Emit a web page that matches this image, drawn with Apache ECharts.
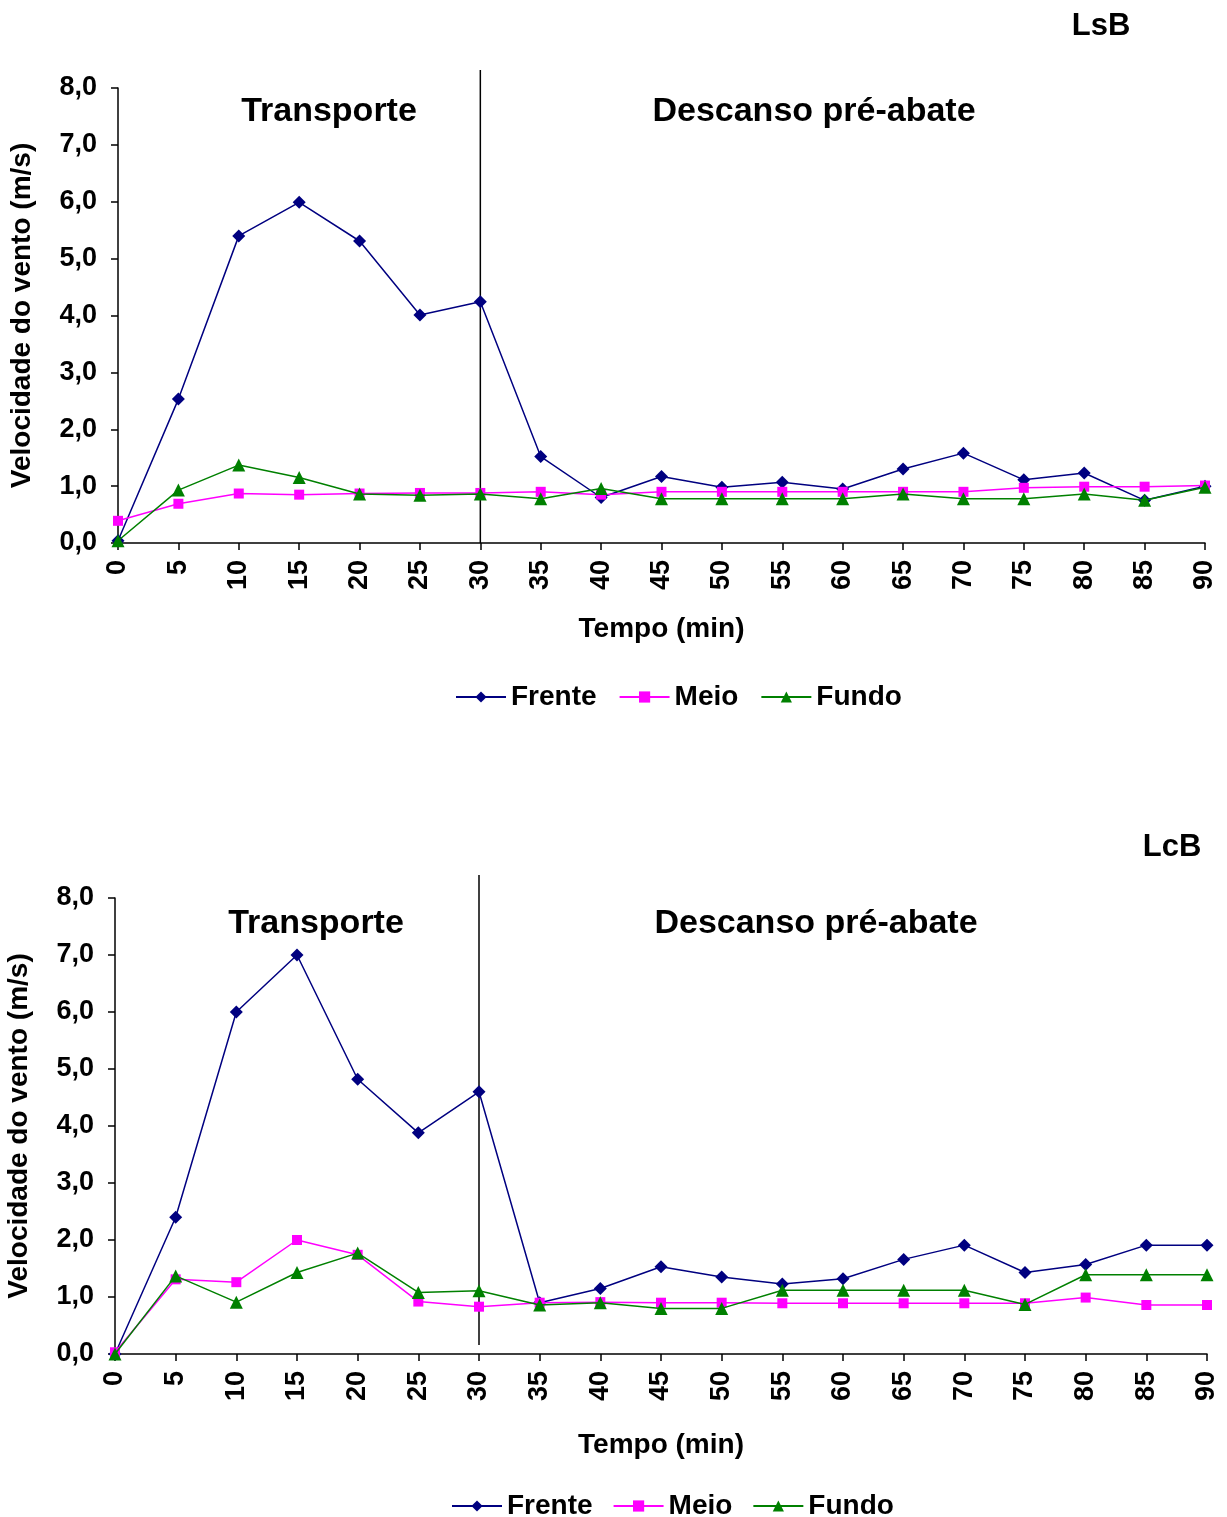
<!DOCTYPE html>
<html>
<head>
<meta charset="utf-8">
<script src="https://cdn.jsdelivr.net/npm/echarts@6/dist/echarts.min.js"></script>
<style>
html,body{margin:0;padding:0;background:#fff;}
#chart{width:1227px;height:1517px;}
</style>
</head>
<body>
<div id="chart"></div>
<script>
// ---- data ----
var minutes = ['0','5','10','15','20','25','30','35','40','45','50','55','60','65','70','75','80','85','90'];
var seriesNames = ['Frente','Meio','Fundo'];
var lsbFrente = [0.04,2.53,5.40,5.99,5.31,4.01,4.24,1.52,0.80,1.17,0.98,1.07,0.95,1.30,1.58,1.11,1.23,0.75,1.00];
var lsbMeio   = [0.39,0.69,0.87,0.85,0.87,0.88,0.88,0.90,0.85,0.90,0.90,0.90,0.90,0.90,0.90,0.97,0.99,0.99,1.01];
var lsbFundo  = [0.04,0.93,1.37,1.15,0.86,0.84,0.86,0.78,0.96,0.78,0.78,0.78,0.78,0.86,0.78,0.78,0.86,0.75,0.98];
var lcbFrente = [0.00,2.40,6.00,7.00,4.82,3.88,4.60,0.90,1.15,1.53,1.35,1.23,1.32,1.66,1.91,1.43,1.57,1.91,1.91];
var lcbMeio   = [0.03,1.31,1.26,2.00,1.74,0.92,0.83,0.90,0.91,0.90,0.90,0.89,0.89,0.89,0.89,0.89,0.99,0.86,0.86];
var lcbFundo  = [0.00,1.37,0.91,1.43,1.77,1.08,1.11,0.86,0.90,0.80,0.80,1.12,1.12,1.12,1.12,0.87,1.39,1.39,1.39];
var dividerAt = '30';
var yTicks = [0,1,2,3,4,5,6,7,8];
var panelLabels = ['LsB','LcB'];
var phaseLabels = ['Transporte','Descanso pré-abate'];
var xName = 'Tempo (min)';
var yName = 'Velocidade do vento (m/s)';

// ---- styles ----
var FONT = 'Liberation Sans, Arial, sans-serif';
var colors = ['#000080','#FF00FF','#008000'];
var symbols = ['diamond','rect','triangle'];
var symbolSizes = [13,10,13];

var chart = echarts.init(document.getElementById('chart'), null, {renderer:'canvas'});

var grids = [
  {left:118, top:88, width:1087, height:455, outerBoundsMode:'none', containLabel:false},
  {left:115, top:898, width:1092, height:456, outerBoundsMode:'none', containLabel:false},
  {left:118, top:70, width:1087, height:473, outerBoundsMode:'none', containLabel:false},
  {left:115, top:875, width:1092, height:470, outerBoundsMode:'none', containLabel:false}
];

function mainX(gi, gap){
  return {
    type:'category', gridIndex:gi, data:minutes, boundaryGap:false,
    name:xName, nameLocation:'middle', nameGap:gap,
    nameTextStyle:{fontFamily:FONT,fontWeight:'bold',fontSize:28,color:'#000'},
    axisLine:{lineStyle:{color:'#000',width:1.5}},
    axisTick:{show:true,inside:false,length:7,alignWithLabel:true,interval:0,lineStyle:{color:'#000',width:1.5}},
    axisLabel:{interval:0,rotate:90,margin:17,fontFamily:FONT,fontWeight:'bold',fontSize:27,color:'#000'},
    splitLine:{show:false}
  };
}
function mainY(gi){
  return {
    type:'value', gridIndex:gi, min:yTicks[0], max:yTicks[yTicks.length-1], interval:1,
    name:yName, nameLocation:'middle', nameGap:82, nameRotate:90,
    nameTextStyle:{fontFamily:FONT,fontWeight:'bold',fontSize:28,color:'#000'},
    axisLine:{show:true,lineStyle:{color:'#000',width:1.5}},
    axisTick:{show:true,inside:false,length:7,lineStyle:{color:'#000',width:1.5}},
    axisLabel:{margin:21,fontFamily:FONT,fontWeight:'bold',fontSize:27,color:'#000',
      formatter:function(v){return v.toFixed(1).replace('.',',');}},
    splitLine:{show:false}
  };
}
function hiddenX(gi){
  return {type:'category', gridIndex:gi, data:minutes, boundaryGap:false, show:false};
}
function hiddenY(gi){
  return {type:'value', gridIndex:gi, min:0, max:1, show:false};
}

function mk(name, idx, data, xi, yi){
  return {
    name:name, type:'line', xAxisIndex:xi, yAxisIndex:yi, data:data,
    symbol:symbols[idx], symbolSize:symbolSizes[idx], showSymbol:true,
    lineStyle:{color:colors[idx], width:1.5},
    itemStyle:{color:colors[idx]},
    z: 3+idx, animation:false
  };
}
function divider(xi, yi){
  return {
    name:'divider', type:'line', xAxisIndex:xi, yAxisIndex:yi,
    data:[[dividerAt,0],[dividerAt,1]], symbol:'none', silent:true,
    lineStyle:{color:'#000', width:1.5}, z:2, animation:false
  };
}

var titleStyle = function(sz){return {fontFamily:FONT,fontWeight:'bold',fontSize:sz,color:'#000'};};

var option = {
  backgroundColor:'#fff',
  animation:false,
  title:[
    {text:panelLabels[0], left:1096, top:6, textAlign:'center', textStyle:titleStyle(31)},
    {text:phaseLabels[0], left:324, top:90, textAlign:'center', textStyle:titleStyle(34)},
    {text:phaseLabels[1], left:809, top:90, textAlign:'center', textStyle:titleStyle(34)},
    {text:panelLabels[1], left:1167, top:827, textAlign:'center', textStyle:titleStyle(31)},
    {text:phaseLabels[0], left:311, top:902, textAlign:'center', textStyle:titleStyle(34)},
    {text:phaseLabels[1], left:811, top:902, textAlign:'center', textStyle:titleStyle(34)}
  ],
  legend:[
    {data:seriesNames, left:450, top:678, itemWidth:50, itemHeight:14, itemGap:22,
     textStyle:{fontFamily:FONT,fontWeight:'bold',fontSize:28,color:'#000',padding:[0,0,0,0]}},
    {data:seriesNames, left:446, top:1487, itemWidth:50, itemHeight:14, itemGap:20,
     textStyle:{fontFamily:FONT,fontWeight:'bold',fontSize:28,color:'#000',padding:[0,0,0,0]}}
  ],
  grid:grids,
  xAxis:[mainX(0,72), mainX(1,77), hiddenX(2), hiddenX(3)],
  yAxis:[mainY(0), mainY(1), hiddenY(2), hiddenY(3)],
  series:[
    divider(2,2),
    divider(3,3),
    mk('Frente',0,lsbFrente,0,0),
    mk('Meio',1,lsbMeio,0,0),
    mk('Fundo',2,lsbFundo,0,0),
    mk('Frente',0,lcbFrente,1,1),
    mk('Meio',1,lcbMeio,1,1),
    mk('Fundo',2,lcbFundo,1,1)
  ]
};
chart.setOption(option);
</script>
</body>
</html>
